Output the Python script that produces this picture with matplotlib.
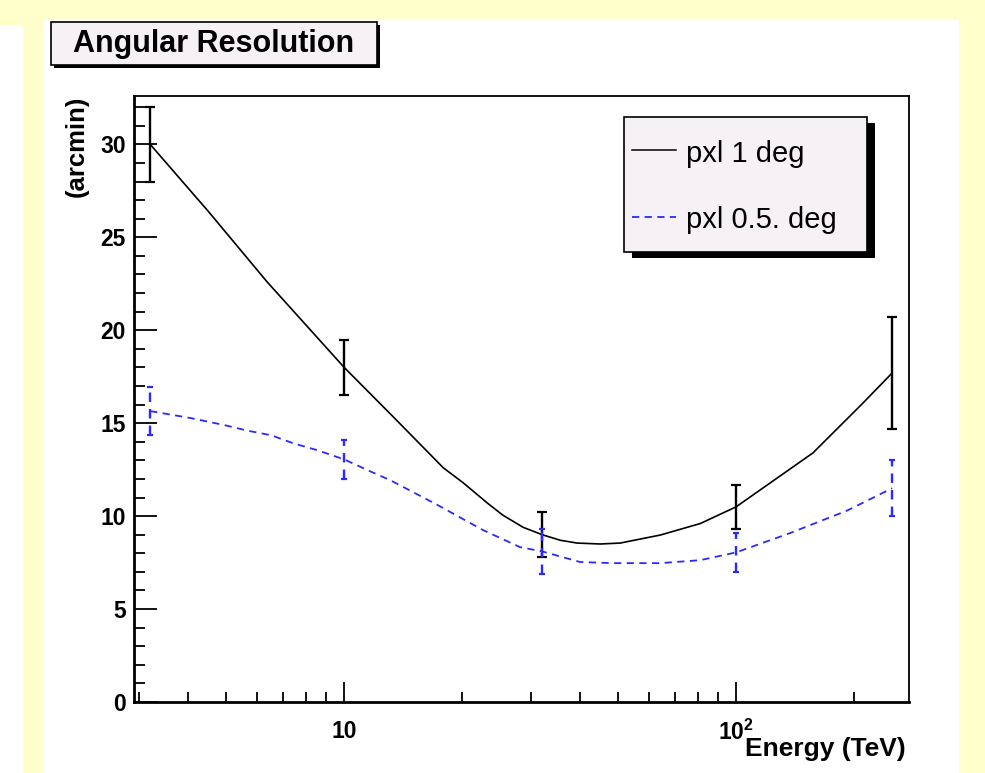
import matplotlib
matplotlib.use('Agg')
import matplotlib.pyplot as plt
from matplotlib.patches import Rectangle
from matplotlib.lines import Line2D
from matplotlib.ticker import FixedLocator, FuncFormatter, MultipleLocator, LogLocator, NullFormatter

plt.rcParams['font.family'] = ['Liberation Sans', 'DejaVu Sans']
plt.rcParams['mathtext.fontset'] = 'custom'
plt.rcParams['mathtext.rm'] = 'Liberation Sans'
plt.rcParams['mathtext.bf'] = 'Liberation Sans:bold'

# points with error bars
e_pts = [3.2, 10, 32, 100, 250]
res_1deg = [30.0, 18.0, 9.0, 10.5, 17.7]
err_1deg = [2.0, 1.5, 1.2, 1.2, 3.0]
res_05deg = [15.65, 13.05, 8.1, 8.05, 11.5]
err_05deg = [1.3, 1.05, 1.2, 1.05, 1.5]

# smooth curves
e_curve_1deg = [3.2, 4.5, 6.36, 10, 13.4, 17.9, 20.1, 23.2, 25.4, 28.6, 32, 35.6, 39.3, 45, 50.6,
                64, 81, 100, 157, 211, 250]
curve_1deg = [30.0, 26.4, 22.6, 18.0, 15.3, 12.6, 11.8, 10.7, 10.05, 9.4, 9.0, 8.7, 8.55, 8.5, 8.55,
              8.98, 9.6, 10.5, 13.4, 16.1, 17.7]
e_curve_05deg = [3.2, 4.07, 4.94, 5.66, 6.51, 7.46, 8.53, 10, 11.4, 13.2, 17.3, 22.6, 28.1, 32,
                 40, 48.5, 64, 81, 100, 137, 192, 250]
curve_05deg = [15.65, 15.27, 14.9, 14.6, 14.35, 13.9, 13.55, 13.05, 12.5, 11.9, 10.6, 9.25, 8.33, 8.1,
               7.53, 7.47, 7.47, 7.63, 8.05, 9.08, 10.3, 11.5]

labels = ['pxl 1 deg', 'pxl 0.5. deg']
W, H = 985, 773
yellow = '#ffffcc'
panel = '#f5f1f5'
blue = '#2a2aff'


def fx(x):
    return x / W


def fy(y):
    return 1 - y / H


fig = plt.figure(figsize=(9.85, 7.73), dpi=100, facecolor=yellow)
# white canvas parts
fig.patches.append(Rectangle((fx(43), 0), fx(959) - fx(43), fy(20), transform=fig.transFigure,
                             facecolor='white', edgecolor='none', zorder=-10))
fig.patches.append(Rectangle((0, 0), fx(23), fy(25), transform=fig.transFigure,
                             facecolor='white', edgecolor='none', zorder=-10))

ax = fig.add_axes([fx(134), fy(702), fx(909) - fx(134), fy(96) - fy(702)])
ax.set_xscale('log')
ax.set_xlim(2.91, 276)
ax.set_ylim(0, 32.6)

ax.plot(e_curve_1deg, curve_1deg, color='black', lw=1.2)
ax.plot(e_curve_05deg, curve_05deg, color=blue, lw=1.3, ls=(0, (4, 3)))
ax.errorbar(e_pts, res_1deg, yerr=err_1deg, fmt='none', ecolor='black', elinewidth=1.7,
            capsize=3.5, capthick=1.6)
eb = ax.errorbar(e_pts, res_05deg, yerr=err_05deg, fmt='none', ecolor=blue, elinewidth=1.7,
                 capsize=2.5, capthick=1.6)
eb[2][0].set_linestyle((0, (4, 3)))

ax.xaxis.set_major_locator(FixedLocator([10, 100]))
ax.xaxis.set_minor_locator(LogLocator(base=10, subs=range(2, 10)))
ax.xaxis.set_minor_formatter(NullFormatter())
ax.xaxis.set_major_formatter(FuncFormatter(lambda v, p: '10' if v < 50 else r'$\mathbf{10^{2}}$'))
ax.yaxis.set_major_locator(MultipleLocator(5))
ax.yaxis.set_minor_locator(MultipleLocator(1))

ax.tick_params(axis='y', which='both', direction='in', left=True, right=False, width=1.3,
               labelsize=16.5, pad=6)
ax.tick_params(axis='y', which='major', length=16.5)
ax.tick_params(axis='y', which='minor', length=8)
ax.tick_params(axis='x', which='both', direction='in', bottom=True, top=False, width=1.3,
               labelsize=16.5, pad=13)
ax.tick_params(axis='x', which='major', length=14.5)
ax.tick_params(axis='x', which='minor', length=7)
for t in ax.get_xticklabels() + ax.get_yticklabels():
    t.set_fontweight('bold')

ax.spines['left'].set_linewidth(2.0)
ax.spines['bottom'].set_linewidth(2.0)
ax.spines['top'].set_linewidth(1.3)
ax.spines['right'].set_linewidth(1.3)

ax.text((77 - 134) / 775, 1.0, '(arcmin)', transform=ax.transAxes, rotation=90,
        fontsize=18.5, fontweight='bold', ha='center', va='top')
ax.text(1 - 3 / 775, -(749 - 702) / 606, 'Energy (TeV)', transform=ax.transAxes,
        fontsize=19, fontweight='bold', ha='right', va='center')

# title box with shadow
fig.patches.append(Rectangle((fx(54), fy(68)), fx(380) - fx(54), fy(25) - fy(68), transform=fig.transFigure,
                             facecolor='black', edgecolor='none'))
fig.patches.append(Rectangle((fx(51), fy(65)), fx(377) - fx(51), fy(22) - fy(65), transform=fig.transFigure,
                             facecolor=panel, edgecolor='black', lw=1.2))
fig.text(fx(214), fy(44), 'Angular Resolution', fontsize=22, fontweight='bold', ha='center', va='center')

# legend box with shadow
fig.patches.append(Rectangle((fx(632), fy(258)), fx(875) - fx(632), fy(123) - fy(258), transform=fig.transFigure,
                             facecolor='black', edgecolor='none'))
fig.patches.append(Rectangle((fx(624), fy(252)), fx(867) - fx(624), fy(117) - fy(252), transform=fig.transFigure,
                             facecolor=panel, edgecolor='black', lw=1.2))
fig.lines.append(Line2D([fx(632), fx(676)], [fy(150), fy(150)], transform=fig.transFigure,
                        color='black', lw=1.1))
fig.lines.append(Line2D([fx(632), fx(676)], [fy(217), fy(217)], transform=fig.transFigure,
                        color=blue, lw=1.3, ls=(0, (4, 3))))
fig.text(fx(686), fy(154), labels[0], fontsize=21, ha='left', va='center')
fig.text(fx(686), fy(220), labels[1], fontsize=21, ha='left', va='center')

fig.savefig('out.png', dpi=100, facecolor=yellow)
